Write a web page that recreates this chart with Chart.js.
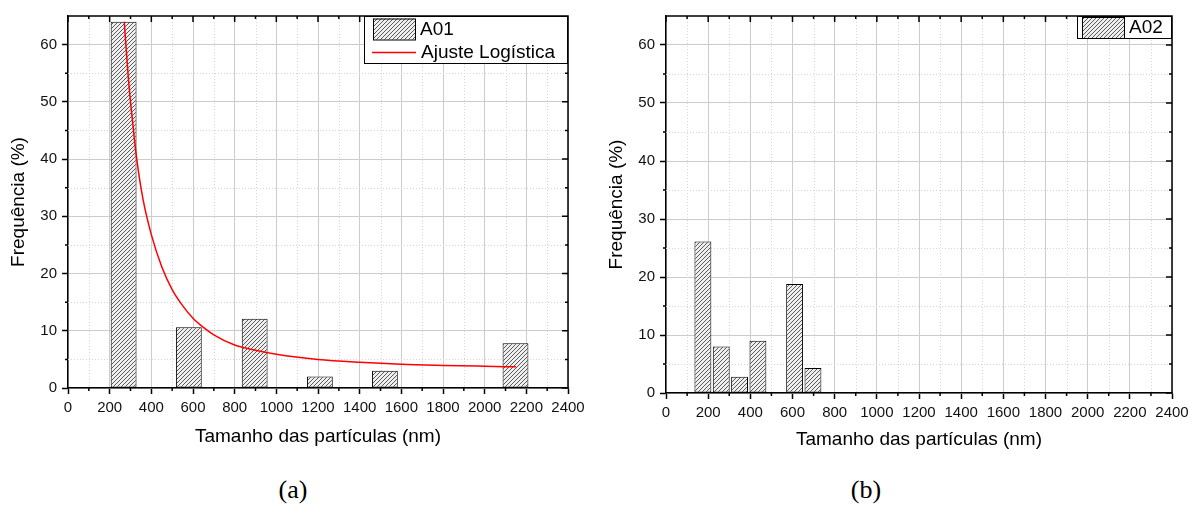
<!DOCTYPE html>
<html>
<head>
<meta charset="utf-8">
<title>Distribuição de tamanho de partículas</title>
<script src="https://cdn.jsdelivr.net/npm/chart.js@4.4.1/dist/chart.umd.min.js"></script>
<style>
  body { margin: 0; background: #fff; width: 1190px; height: 505px; position: relative; overflow: hidden; }
  .box { position: absolute; top: 0; height: 460px; }
  #boxA { left: 0; width: 594px; }
  #boxB { left: 598px; width: 600px; }
  .cap { position: absolute; top: 477px; width: 60px; margin-left: -30px; text-align: center;
         font-family: "Liberation Serif", "Times New Roman", serif; font-size: 26px; line-height: 26px; color: #000; }
</style>
</head>
<body>
<div class="box" id="boxA"><canvas id="chartA"></canvas></div>
<div class="box" id="boxB"><canvas id="chartB"></canvas></div>
<div class="cap" style="left:293px">(a)</div>
<div class="cap" style="left:866px">(b)</div>
<script>
// Amostra A01 - histograma (centro da classe em nm, frequência em %)
const binsA = [267, 580, 896, 1209, 1521, 2148];
const freqA = [64, 10.6, 12.1, 2.0, 3.0, 7.8];

// Ajuste logístico
const fitX = [270, 290, 310, 330, 360, 400, 450, 500, 550, 600, 650, 700, 800, 900, 1000, 1200, 1400, 1600, 1800, 2000, 2150];
const fitY = [64, 54, 46.5, 40, 33, 26.8, 21.2, 17.2, 14.4, 12.2, 10.6, 9.3, 7.5, 6.6, 5.9, 5.0, 4.5, 4.15, 3.95, 3.8, 3.7];

// Amostra A02
const binsB = [175, 262, 349, 436, 610, 697];
const freqB = [26.1, 8.0, 2.8, 9.0, 18.8, 4.3];

// eixos
const xMin = 0, xMax = 2400, xStep = 200;
const yMin = 0, yMax = 65, yStep = 10;
const xTitle = 'Tamanho das partículas (nm)';
const yTitle = 'Frequência (%)';

Chart.defaults.font.family = "'Liberation Sans', Arial, sans-serif";
Chart.defaults.color = '#111';

// hachura "////"
const makeHatch = () => {
  const c = document.createElement('canvas');
  c.width = 4; c.height = 4;
  const g = c.getContext('2d');
  g.fillStyle = '#efefef';
  g.fillRect(0, 0, 4, 4);
  g.strokeStyle = '#333';
  g.lineWidth = 0.8;
  g.beginPath();
  g.moveTo(-1, 5); g.lineTo(5, -1);
  g.moveTo(-1, 1); g.lineTo(1, -1);
  g.moveTo(3, 5); g.lineTo(5, 3);
  g.stroke();
  return g.createPattern(c, 'repeat');
};
const hatch = makeHatch();

// grade menor pontilhada, moldura e ticks menores
const framePlugin = {
  id: 'frame',
  beforeDatasetsDraw(chart) {
    const {ctx, chartArea: a, scales: {x, y}} = chart;
    ctx.save();
    ctx.strokeStyle = '#d6d6d6';
    ctx.lineWidth = 1;
    ctx.setLineDash([1, 2]);
    ctx.beginPath();
    for (let v = xMin + xStep / 2; v < xMax; v += xStep) {
      const px = Math.round(x.getPixelForValue(v)) + 0.5;
      ctx.moveTo(px, a.top); ctx.lineTo(px, a.bottom);
    }
    for (let v = yMin + yStep / 2; v < yMax; v += yStep) {
      const py = Math.round(y.getPixelForValue(v)) + 0.5;
      ctx.moveTo(a.left, py); ctx.lineTo(a.right, py);
    }
    ctx.stroke();
    ctx.restore();
  },
  afterDraw(chart) {
    const {ctx, chartArea: a, scales: {x, y}} = chart;
    ctx.save();
    ctx.strokeStyle = '#000';
    ctx.lineWidth = 1.5;
    ctx.beginPath();
    ctx.moveTo(a.left, a.top); ctx.lineTo(a.right, a.top); ctx.lineTo(a.right, a.bottom);
    for (let v = xMin; v <= xMax; v += xStep / 2) {
      const px = x.getPixelForValue(v);
      const major = v % xStep === 0;
      if (!major) { ctx.moveTo(px, a.bottom); ctx.lineTo(px, a.bottom + 3); }
      ctx.moveTo(px, a.top); ctx.lineTo(px, a.top + (major ? 6 : 3));
    }
    for (let v = yMin; v <= 60; v += yStep / 2) {
      const py = y.getPixelForValue(v);
      const major = v % yStep === 0;
      if (!major) { ctx.moveTo(a.left, py); ctx.lineTo(a.left - 3, py); }
      ctx.moveTo(a.right, py); ctx.lineTo(a.right - (major ? 6 : 3), py);
    }
    ctx.stroke();
    ctx.restore();
  }
};

// legenda desenhada dentro da área do gráfico, canto superior direito
const legendPlugin = (items, w, h) => ({
  id: 'boxLegend',
  afterDraw(chart) {
    const {ctx, chartArea: a} = chart;
    const left = a.right - w, top = a.top;
    ctx.save();
    ctx.fillStyle = '#fff';
    ctx.fillRect(left, top, w, h);
    ctx.strokeStyle = '#000';
    ctx.lineWidth = 1;
    ctx.strokeRect(left + 0.5, top + 0.5, w - 1, h - 1);
    ctx.font = "19px 'Liberation Sans', Arial, sans-serif";
    ctx.textBaseline = 'middle';
    items.forEach(it => {
      if (it.kind === 'bar') {
        ctx.fillStyle = hatch;
        ctx.fillRect(left + it.sx, top + it.sy, 42, 21);
        ctx.strokeStyle = '#000';
        ctx.strokeRect(left + it.sx + 0.5, top + it.sy + 0.5, 42, 21);
      } else {
        ctx.strokeStyle = '#ff0000';
        ctx.lineWidth = 1.5;
        ctx.beginPath();
        ctx.moveTo(left + it.sx, top + it.ty); ctx.lineTo(left + it.sx + 44, top + it.ty);
        ctx.stroke();
        ctx.lineWidth = 1;
      }
      ctx.fillStyle = '#000';
      ctx.fillText(it.text, left + it.tx, top + it.ty);
    });
    ctx.restore();
  }
});

const makeOptions = (xH, titlePad) => ({
  responsive: true,
  maintainAspectRatio: false,
  animation: false,
  layout: { padding: { top: 16, right: 26, left: 0, bottom: 0 } },
  plugins: { legend: { display: false }, tooltip: { enabled: false } },
  scales: {
    x: {
      type: 'linear', min: xMin, max: xMax, offset: false,
      ticks: { stepSize: xStep, includeBounds: false, autoSkip: false, maxRotation: 0, padding: 5,
               font: { size: 15 }, color: '#111', callback: v => String(v) },
      grid: { offset: false, color: '#cccccc', lineWidth: 1, tickLength: 6, tickColor: '#000', tickWidth: 1.5 },
      border: { color: '#000', width: 1.5 },
      title: { display: true, text: xTitle, font: { size: 19 }, color: '#000', padding: { top: 0, bottom: titlePad } },
      afterFit: s => { s.height = xH; }
    },
    y: {
      min: yMin, max: yMax,
      ticks: { stepSize: yStep, includeBounds: false, padding: 5, font: { size: 15 }, color: '#111',
               callback: v => String(v) },
      grid: { color: '#cccccc', lineWidth: 1, tickLength: 6, tickColor: '#000', tickWidth: 1.5 },
      border: { color: '#000', width: 1.5 },
      title: { display: true, text: yTitle, font: { size: 19 }, color: '#000', padding: { top: 7, bottom: 0 } },
      afterFit: s => { s.width = 68; }
    }
  }
});

const barStyle = {
  backgroundColor: hatch,
  borderColor: '#000',
  borderWidth: 1,
  borderSkipped: false
};

new Chart(document.getElementById('chartA'), {
  type: 'bar',
  data: {
    datasets: [
      {
        type: 'line',
        label: 'Ajuste Logística',
        data: fitX.map((x, i) => ({ x, y: fitY[i] })),
        borderColor: '#ff0000',
        borderWidth: 1.5,
        pointRadius: 0,
        cubicInterpolationMode: 'monotone',
        order: 0
      },
      {
        label: 'A01',
        data: binsA.map((x, i) => ({ x, y: freqA[i] })),
        ...barStyle,
        barPercentage: 1,
        categoryPercentage: 0.62,
        order: 1
      }
    ]
  },
  options: makeOptions(72, 12),
  plugins: [framePlugin, legendPlugin([
    { kind: 'bar', text: 'A01', sx: 9, sy: 2.5, tx: 56, ty: 14 },
    { kind: 'line', text: 'Ajuste Logística', sx: 8, tx: 57, ty: 36.5 }
  ], 204, 48)]
});

new Chart(document.getElementById('chartB'), {
  type: 'bar',
  data: {
    datasets: [{
      label: 'A02',
      data: binsB.map((x, i) => ({ x, y: freqB[i] })),
      ...barStyle,
      barPercentage: 1,
      categoryPercentage: 0.92
    }]
  },
  options: makeOptions(67, 9),
  plugins: [framePlugin, legendPlugin([
    { kind: 'bar', text: 'A02', sx: 5, sy: 1, tx: 52, ty: 11.5 }
  ], 95, 23)]
});
</script>
</body>
</html>
